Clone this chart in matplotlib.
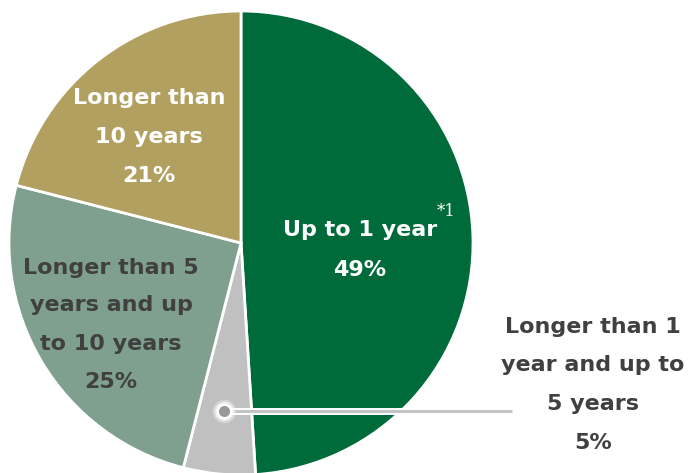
import matplotlib
matplotlib.use("Agg")
import matplotlib.pyplot as plt
import matplotlib.patheffects as pe

# Composition of holdings by remaining term
categories = ["Up to 1 year", "Longer than 1 year and up to 5 years",
              "Longer than 5 years and up to 10 years", "Longer than 10 years"]
shares = [49, 5, 25, 21]
colors = ["#006b3a", "#c0c0c0", "#7fa08e", "#b2a061"]

W, H = 688, 473
fig = plt.figure(figsize=(W / 100, H / 100), dpi=100)
ax = fig.add_axes([0, 0, 1, 1])

cx, cy, r = 241, H - 243, 232
ax.pie(shares, colors=colors, startangle=90, counterclock=False,
       center=(cx, cy), radius=r, frame=True,
       wedgeprops=dict(edgecolor="white", linewidth=2))
ax.set_xlim(0, W)
ax.set_ylim(0, H)
ax.set_aspect("equal")
ax.axis("off")

fs = 16
dark = "#404040"


def label(x, lines, ys, color):
    for t, y in zip(lines, ys):
        ax.text(x, H - y, t, ha="center", va="center", fontsize=fs,
                fontweight="bold", color=color, family="DejaVu Sans")


label(360, ["Up to 1 year", f"{shares[0]}%"], [230, 270], "white")
ax.text(446, H - 212, "*1", ha="center", va="center", fontsize=12,
        color="white", family="DejaVu Serif")
label(149, ["Longer than", "10 years", f"{shares[3]}%"], [98, 137, 176], "white")
label(111, ["Longer than 5", "years and up", "to 10 years", f"{shares[2]}%"],
      [268, 305, 344, 382], dark)
label(593, ["Longer than 1", "year and up to", "5 years", f"{shares[1]}%"],
      [327, 365, 404, 443], dark)

# Leader line from the small slice to its outside label
halo = [pe.Stroke(linewidth=5, foreground="white"), pe.Normal()]
ax.plot([224, 512], [H - 411, H - 411], color="#c4c4c4", linewidth=2.2,
        solid_capstyle="butt", path_effects=halo, zorder=5)
for ms, a in [(17, 0.3), (14, 0.6), (11.5, 1.0)]:
    ax.plot([224], [H - 411], marker="o", markersize=ms, color="white",
            markeredgewidth=0, alpha=a, zorder=6)
ax.plot([224], [H - 411], marker="o", markersize=8, color="#999999",
        markeredgewidth=0, zorder=7)

fig.savefig("out.png", dpi=100)
